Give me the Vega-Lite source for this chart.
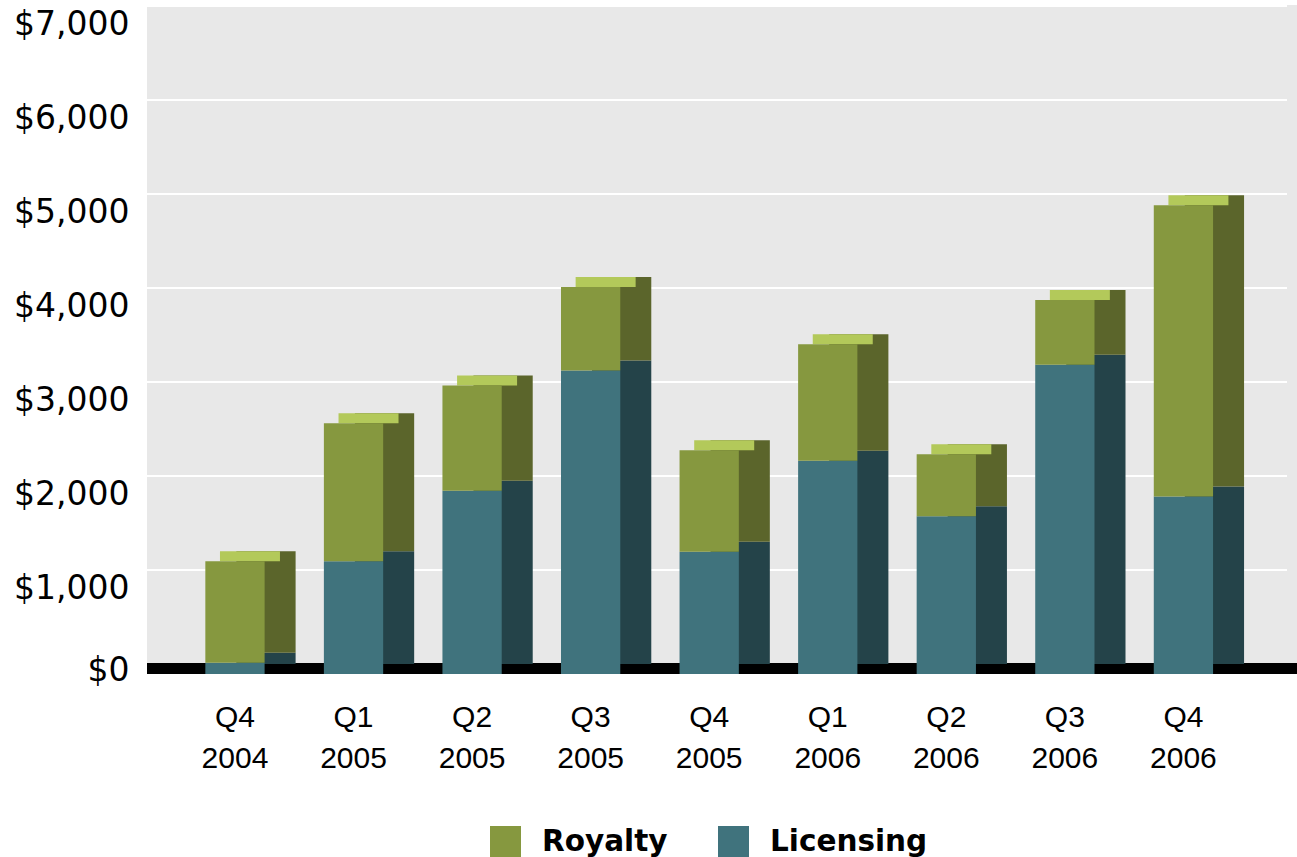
{
  "$schema": "https://vega.github.io/schema/vega-lite/v6.json",
  "autosize": {"type": "none"},
  "padding": {"left": 147, "top": 5, "right": 0, "bottom": 183},
  "width": 1150,
  "height": 669,
  "background": "#ffffff",
  "config": {
    "view": {"fill": "#e8e8e8", "stroke": null}
  },
  "data": {
    "values": [
      {"quarter": "Q4 2004", "series": "Licensing", "value": 120},
      {"quarter": "Q4 2004", "series": "Royalty", "value": 1080},
      {"quarter": "Q1 2005", "series": "Licensing", "value": 1200},
      {"quarter": "Q1 2005", "series": "Royalty", "value": 1470},
      {"quarter": "Q2 2005", "series": "Licensing", "value": 1950},
      {"quarter": "Q2 2005", "series": "Royalty", "value": 1120},
      {"quarter": "Q3 2005", "series": "Licensing", "value": 3230},
      {"quarter": "Q3 2005", "series": "Royalty", "value": 890},
      {"quarter": "Q4 2005", "series": "Licensing", "value": 1300},
      {"quarter": "Q4 2005", "series": "Royalty", "value": 1080},
      {"quarter": "Q1 2006", "series": "Licensing", "value": 2270},
      {"quarter": "Q1 2006", "series": "Royalty", "value": 1240},
      {"quarter": "Q2 2006", "series": "Licensing", "value": 1680},
      {"quarter": "Q2 2006", "series": "Royalty", "value": 660},
      {"quarter": "Q3 2006", "series": "Licensing", "value": 3290},
      {"quarter": "Q3 2006", "series": "Royalty", "value": 690},
      {"quarter": "Q4 2006", "series": "Licensing", "value": 1890},
      {"quarter": "Q4 2006", "series": "Royalty", "value": 3100}
    ]
  },
  "resolve": {"axis": {"y": "independent"}},
  "layer": [
    {
      "mark": {"type": "rule", "color": "#000000", "strokeWidth": 11, "yOffset": -5.5},
      "encoding": {
        "y": {"datum": 0, "type": "quantitative", "scale": {"domain": [0, 7120], "nice": false},
          "axis": {"orient": "left", "values": [0, 1000, 2000, 3000, 4000, 5000, 6000, 7000], "grid": true, "gridColor": "#ffffff", "gridWidth": 2, "gridOpacity": 1, "labels": false, "ticks": false, "domain": false, "title": null, "translate": -10}}
      }
    },
    {
      "mark": {"type": "bar", "xOffset": 31, "yOffset": -10},
      "encoding": {
        "x": {"field": "quarter", "type": "nominal", "sort": null,
          "scale": {"paddingInner": 0.5, "paddingOuter": 0.6, "align": 0.41},
          "axis": {"title": null, "domain": false, "ticks": false, "labelAngle": 0,
            "labelExpr": "split(datum.label, ' ')",
            "labelFont": "Liberation Sans", "labelFontSize": 30, "labelColor": "#000000",
            "labelLineHeight": 41, "labelPadding": 28}},
        "y": {"field": "value", "type": "quantitative", "stack": "zero",
          "scale": {"domain": [0, 7120], "nice": false},
          "axis": {"orient": "left", "values": [0, 1000, 2000, 3000, 4000, 5000, 6000, 7000], "grid": false, "ticks": false, "domain": false, "title": null,
            "format": "$,.0f", "labelFont": "DejaVu Sans", "labelFontSize": 33, "labelColor": "#000000", "labelPadding": 18,
            "labelOffset": {"condition": {"test": "datum.value === 0", "value": -4}, "value": 8}}},
        "order": {"field": "series", "sort": "ascending"},
        "color": {"condition": {"test": "datum.series === 'Royalty'", "value": "#5b652b"}, "value": "#244349"}
      }
    },
    {
      "transform": [
        {"joinaggregate": [{"op": "sum", "field": "value", "as": "total"}], "groupby": ["quarter"]},
        {"filter": "datum.series === 'Royalty'"}
      ],
      "mark": {"type": "tick", "orient": "horizontal", "thickness": 10, "size": 60, "xOffset": 15, "yOffset": -5, "color": "#b3c95a", "opacity": 1},
      "encoding": {
        "x": {"field": "quarter", "type": "nominal", "sort": null},
        "y": {"field": "total", "type": "quantitative", "axis": null}
      }
    },
    {
      "mark": {"type": "bar"},
      "encoding": {
        "x": {"field": "quarter", "type": "nominal", "sort": null},
        "y": {"field": "value", "type": "quantitative", "stack": "zero", "axis": null},
        "order": {"field": "series", "sort": "ascending"},
        "color": {"field": "series", "type": "nominal",
          "scale": {"domain": ["Royalty", "Licensing"], "range": ["#86983f", "#40737d"]},
          "legend": {"title": null, "orient": "none", "legendX": 343, "legendY": 821, "direction": "horizontal",
            "symbolType": "square", "symbolSize": 961, "symbolStrokeWidth": 0, "symbolOpacity": 1,
            "labelFont": "DejaVu Sans", "labelFontWeight": "bold", "labelFontSize": 29.5, "labelColor": "#000000",
            "labelOffset": 21, "columnPadding": 50, "padding": 0}}
      }
    }
  ]
}
